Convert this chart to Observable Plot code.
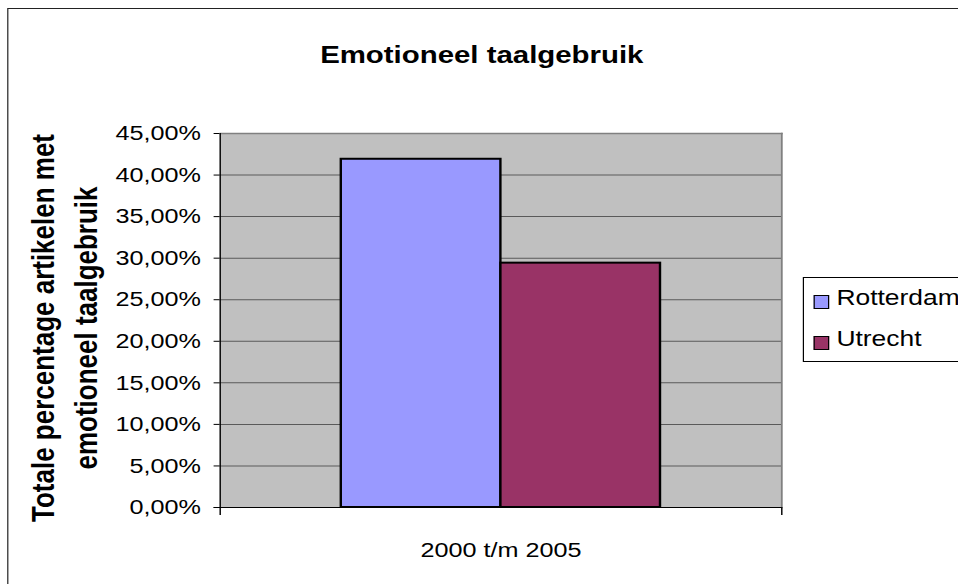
<!DOCTYPE html>
<html>
<head>
<meta charset="utf-8">
<script src="https://cdn.jsdelivr.net/npm/d3@7"></script>
<script src="https://cdn.jsdelivr.net/npm/@observablehq/plot@0.6"></script>
<style>
  html, body { margin: 0; padding: 0; background: #fff; overflow: hidden; width: 958px; height: 584px; }
  #wrap { position: relative; width: 798px; height: 584px; transform: scaleX(1.2); transform-origin: 0 0; font-family: "Liberation Sans", Arial, sans-serif; }
  #border { position: absolute; left: 5.5px; top: 8px; width: 900px; height: 700px; border: 1.6px solid #222; }
  #legend { position: absolute; left: 669px; top: 277px; width: 160px; height: 83px; border: 1px solid #000; background: #fff; }
  .sw { position: absolute; left: 8px; width: 11px; height: 12px; border: 1px solid #000; }
  .lt { position: absolute; left: 27px; font-size: 22px; line-height: 22px; color: #000; white-space: nowrap; }
</style>
</head>
<body>
<div id="wrap">
  <div id="border"></div>
  <div id="chart"></div>
  <div id="legend"></div>
</div>
<script>
const title = "Emotioneel taalgebruik";
const yTitle = "Totale percentage artikelen met\nemotioneel taalgebruik";
const categories = ["2000 t/m 2005"];
const series = ["Rotterdam", "Utrecht"];
const values = [41.9, 29.4];
const colors = ["#9999FF", "#993366"];
const yTicks = [0, 5, 10, 15, 20, 25, 30, 35, 40, 45];

const data = series.map((s, i) => ({period: categories[0], city: s, value: values[i]}));
const fmt = d => d.toFixed(2).replace(".", ",") + "%";

const plot = Plot.plot({
  width: 798,
  height: 584,
  marginLeft: 183,
  marginRight: 147,
  marginTop: 133,
  marginBottom: 77,
  style: {fontFamily: "Liberation Sans, Arial, sans-serif", fontSize: "21px", color: "#000", background: "transparent"},
  fx: {domain: categories, padding: 0, label: null, tickSize: 0, tickPadding: 34.5, axis: "bottom"},
  x: {domain: series, axis: null, paddingInner: 0, paddingOuter: 0.755},
  y: {domain: [0, 45], ticks: yTicks, tickFormat: fmt, tickSize: 5, tickPadding: 11, label: null},
  color: {domain: series, range: colors},
  marks: [
    Plot.frame({fill: "#C0C0C0", stroke: null}),
    Plot.ruleY(yTicks.filter(d => d > 0 && d < 45), {stroke: "#5a5a5a", strokeWidth: 1}),
    Plot.frame({anchor: "top", stroke: "#808080", strokeWidth: 1.5}),
    Plot.frame({anchor: "right", stroke: "#808080", strokeWidth: 1.5}),
    Plot.barY(data, {fx: "period", x: "city", y: "value", fill: "city", stroke: "#000", strokeWidth: 2}),
    Plot.ruleY([0], {stroke: "#000", strokeWidth: 1.2, insetLeft: -5}),
    Plot.frame({anchor: "left", stroke: "#000", strokeWidth: 1.2, insetBottom: -7}),
    Plot.frame({anchor: "right", stroke: "#000", strokeWidth: 1.2, insetTop: 374, insetBottom: -7}),
    Plot.text([title], {frameAnchor: "top", dy: -71, dx: -16, lineAnchor: "bottom", fontSize: 24.5, fontWeight: "bold", fill: "#000"}),
    Plot.text([yTitle], {frameAnchor: "left", rotate: -90, dx: -132, dy: 7.5, textAnchor: "middle", lineAnchor: "middle", lineHeight: 1.36, fontSize: 26, fontWeight: "bold", fill: "#000"})
  ]
});
document.getElementById("chart").appendChild(plot);

const legend = document.getElementById("legend");
const swTops = [17, 58];
const textTops = [9, 50];
series.forEach((s, i) => {
  const sw = document.createElement("div");
  sw.className = "sw";
  sw.style.top = swTops[i] + "px";
  sw.style.background = colors[i];
  legend.appendChild(sw);
  const t = document.createElement("div");
  t.className = "lt";
  t.style.top = textTops[i] + "px";
  t.textContent = s;
  legend.appendChild(t);
});
</script>
</body>
</html>
